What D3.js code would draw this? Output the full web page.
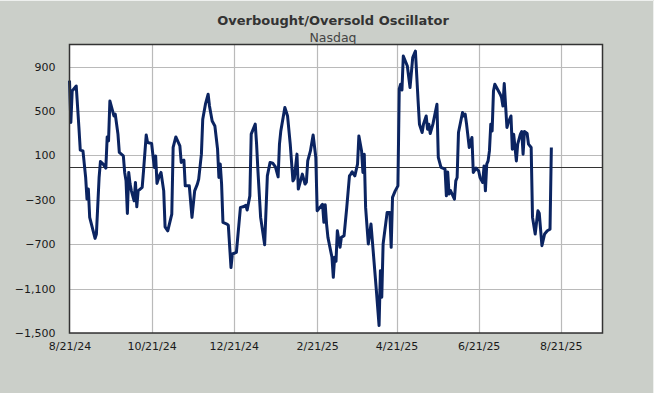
<!DOCTYPE html>
<html>
<head>
<meta charset="utf-8">
<script src="https://cdn.jsdelivr.net/npm/d3@7"></script>
<style>
  html, body { margin: 0; padding: 0; background: #cbcfc9; }
  svg { display: block; }
</style>
</head>
<body>
<div id="chart"></div>
<script>
'use strict';

var titleText = 'Overbought/Oversold Oscillator';
var subtitleText = 'Nasdaq';

var dates = [
  '2024-08-21', '2024-08-22', '2024-08-23', '2024-08-26', '2024-08-28', '2024-08-29', '2024-08-31',
  '2024-09-02', '2024-09-03', '2024-09-04', '2024-09-05', '2024-09-09', '2024-09-10', '2024-09-12',
  '2024-09-13', '2024-09-15', '2024-09-17', '2024-09-18', '2024-09-19', '2024-09-20', '2024-09-22',
  '2024-09-23', '2024-09-24', '2024-09-26', '2024-09-27', '2024-09-30',
  '2024-10-01', '2024-10-02', '2024-10-03', '2024-10-04', '2024-10-05', '2024-10-06', '2024-10-08',
  '2024-10-09', '2024-10-10', '2024-10-11', '2024-10-14', '2024-10-15', '2024-10-17', '2024-10-18',
  '2024-10-21', '2024-10-23', '2024-10-24', '2024-10-25', '2024-10-27', '2024-10-28', '2024-10-30',
  '2024-10-31',
  '2024-11-02', '2024-11-05', '2024-11-06', '2024-11-08', '2024-11-11', '2024-11-12', '2024-11-14',
  '2024-11-15', '2024-11-18', '2024-11-20', '2024-11-22', '2024-11-24', '2024-11-25', '2024-11-27',
  '2024-11-28', '2024-11-30',
  '2024-12-02', '2024-12-03', '2024-12-05', '2024-12-07', '2024-12-08', '2024-12-09', '2024-12-10',
  '2024-12-11', '2024-12-12', '2024-12-13', '2024-12-16', '2024-12-17', '2024-12-19', '2024-12-20',
  '2024-12-23', '2024-12-26', '2024-12-28', '2024-12-30', '2024-12-31',
  '2025-01-02', '2025-01-03', '2025-01-06', '2025-01-07', '2025-01-08', '2025-01-10', '2025-01-13',
  '2025-01-15', '2025-01-17', '2025-01-19', '2025-01-21', '2025-01-23', '2025-01-24', '2025-01-25',
  '2025-01-28', '2025-01-30',
  '2025-02-01', '2025-02-03', '2025-02-04', '2025-02-06', '2025-02-07', '2025-02-10', '2025-02-12',
  '2025-02-13', '2025-02-14', '2025-02-16', '2025-02-18', '2025-02-20', '2025-02-21', '2025-02-24',
  '2025-02-25', '2025-02-26', '2025-02-27', '2025-02-28',
  '2025-03-01', '2025-03-04', '2025-03-05', '2025-03-06', '2025-03-07', '2025-03-08', '2025-03-10',
  '2025-03-11', '2025-03-13', '2025-03-15', '2025-03-17', '2025-03-18', '2025-03-19', '2025-03-21',
  '2025-03-23', '2025-03-24', '2025-03-26', '2025-03-27', '2025-03-28', '2025-03-29', '2025-03-31',
  '2025-04-02', '2025-04-04', '2025-04-06', '2025-04-08', '2025-04-09', '2025-04-10', '2025-04-11',
  '2025-04-14', '2025-04-16', '2025-04-17', '2025-04-18', '2025-04-20', '2025-04-22', '2025-04-23',
  '2025-04-24', '2025-04-25', '2025-04-26', '2025-04-29',
  '2025-05-01', '2025-05-03', '2025-05-05', '2025-05-07', '2025-05-08', '2025-05-10', '2025-05-11',
  '2025-05-13', '2025-05-14', '2025-05-15', '2025-05-16', '2025-05-18', '2025-05-21', '2025-05-22',
  '2025-05-24', '2025-05-27', '2025-05-28', '2025-05-29', '2025-05-30', '2025-05-31',
  '2025-06-03', '2025-06-04', '2025-06-05', '2025-06-06', '2025-06-09', '2025-06-10', '2025-06-11',
  '2025-06-12', '2025-06-14', '2025-06-16', '2025-06-17', '2025-06-19', '2025-06-21', '2025-06-22',
  '2025-06-24', '2025-06-25', '2025-06-26', '2025-06-27', '2025-06-28', '2025-06-29', '2025-06-30',
  '2025-07-01', '2025-07-02', '2025-07-03', '2025-07-05', '2025-07-07', '2025-07-08', '2025-07-09',
  '2025-07-10', '2025-07-12', '2025-07-13', '2025-07-15', '2025-07-16', '2025-07-17', '2025-07-19',
  '2025-07-20', '2025-07-22', '2025-07-23', '2025-07-24', '2025-07-25', '2025-07-27', '2025-07-28',
  '2025-07-30', '2025-07-31',
  '2025-08-02', '2025-08-04', '2025-08-05', '2025-08-07', '2025-08-09', '2025-08-11', '2025-08-13',
  '2025-08-14'
];

var oscillator = [
  774, 397, 681, 726, 352, 148, 141,
  -98, -293, -203, -458, -647, -608, -98,
  46, 22, -14, 267, 231, 591, 501,
  456, 472, 292, 127, 96,
  -53, -129, -422, -53, -158, -219, -309,
  -143, -363, -219, -188, -39, 285, 217,
  208, -8, 96, -152, -75, -53, -219,
  -543,
  -579, -428, 172, 267, 186, 37, 58,
  -174, -174, -458, -219, -158, -113, 112,
  427, 562,
  652, 546, 411, 366, 262, 157, -98,
  22, -158, -503, -518, -530, -910, -788,
  -773, -368, -363, -350, -392,
  -264, 292, 382, 202, -39, -458, -705,
  -84, 37, 30, -3, -93, 202, 321,
  532, 456,
  202, -129, -110, 112, -203, -68, -158,
  -140, 51, 141, 285, 82, -399, -354,
  -340, -503, -345, -518,
  -638, -818, -998, -818, -854, -579, -728,
  -638, -623, -368, -84, -68, -48, -84,
  22, 276, 141, -53, 112, -368, -698,
  -518, -818, -1118, -1433, -938, -1178, -698,
  -413, -413, -728, -278, -219, -174, 700,
  742, 690, 996, 906,
  712, 982, 1041, 591, 382, 307, 382,
  456, 337, 382, 298, 382, 562, 82,
  -8, -23, -264, -50, -248, -215,
  -293, -129, -98, 307, 487, 456, 472,
  382, 172, 262, -53, -14, -40, -98,
  -143, 6, -219, 22, 51, 141, 382,
  321, 681, 742, 697, 652, 622, 546,
  748, 352, 397, 456, 157, 292, 51,
  202, 292, 316, 112, 316, 298, 202,
  172, -458,
  -608, -399, -420, -713, -608, -579, -565,
  172
];

var xTickDates = ['2024-08-21', '2024-10-21', '2024-12-21', '2025-02-21', '2025-04-21', '2025-06-21', '2025-08-21'];
var yTicks = [-1500, -1100, -700, -300, 100, 500, 900];
var xDomain = ['2024-08-21', '2025-09-21'];
var yDomain = [-1500, 1100];

var width = 654, height = 393;
var margin = { top: 44.5, right: 51.5, bottom: 60, left: 69.5 };

var parseDate = d3.timeParse('%Y-%m-%d');
var fmt = d3.timeFormat('%-m/%-d/%y');

var data = dates.map(function(d, i) {
  return { date: parseDate(d), value: oscillator[i] };
});

var svg = d3.select('#chart').append('svg')
  .attr('width', width)
  .attr('height', height)
  .style('font-family', '"DejaVu Sans", Verdana, sans-serif');

svg.append('rect')
  .attr('width', width)
  .attr('height', height)
  .attr('fill', '#cbcfc9');

// faint frame on top and right edge
svg.append('path')
  .attr('d', 'M0,0.5H653.5V393')
  .attr('fill', 'none')
  .attr('stroke', '#eef0ee')
  .attr('stroke-width', 1);

var x = d3.scaleTime()
  .domain(xDomain.map(parseDate))
  .range([margin.left, width - margin.right]);

var y = d3.scaleLinear()
  .domain(yDomain)
  .range([height - margin.bottom, margin.top]);

var plotW = width - margin.right - margin.left;
var plotH = height - margin.bottom - margin.top;

svg.append('rect')
  .attr('x', margin.left)
  .attr('y', margin.top)
  .attr('width', plotW)
  .attr('height', plotH)
  .attr('fill', '#ffffff');

// grid
svg.append('g')
  .selectAll('line.hgrid')
  .data(yTicks)
  .enter().append('line')
  .attr('class', 'hgrid')
  .attr('x1', margin.left)
  .attr('x2', width - margin.right)
  .attr('y1', function(d) { return Math.round(y(d)) + 0.5; })
  .attr('y2', function(d) { return Math.round(y(d)) + 0.5; })
  .attr('stroke', '#bababa')
  .attr('stroke-width', 1.2);

svg.append('g')
  .selectAll('line.vgrid')
  .data(xTickDates.slice(1))
  .enter().append('line')
  .attr('class', 'vgrid')
  .attr('x1', function(d) { return Math.round(x(parseDate(d))) + 0.5; })
  .attr('x2', function(d) { return Math.round(x(parseDate(d))) + 0.5; })
  .attr('y1', margin.top)
  .attr('y2', height - margin.bottom)
  .attr('stroke', '#bababa')
  .attr('stroke-width', 1.2);

// zero line
svg.append('line')
  .attr('x1', margin.left)
  .attr('x2', width - margin.right)
  .attr('y1', Math.round(y(0)) + 0.5)
  .attr('y2', Math.round(y(0)) + 0.5)
  .attr('stroke', '#333333')
  .attr('stroke-width', 1);

// axes (labels only, frame drawn separately)
var xAxis = d3.axisBottom(x)
  .tickValues(xTickDates.map(parseDate))
  .tickFormat(fmt)
  .tickSize(0)
  .tickPadding(9);

var yAxis = d3.axisLeft(y)
  .tickValues(yTicks)
  .tickSize(0)
  .tickPadding(14);

var gx = svg.append('g')
  .attr('transform', 'translate(0,' + (height - margin.bottom) + ')')
  .call(xAxis);
var gy = svg.append('g')
  .attr('transform', 'translate(' + margin.left + ',0)')
  .call(yAxis);

[gx, gy].forEach(function(g) {
  g.select('.domain').remove();
  g.selectAll('text')
    .style('font-size', '11px')
    .style('font-family', '"DejaVu Sans", Verdana, sans-serif')
    .attr('fill', '#1a1a1a');
});

// the oscillator line
var line = d3.line()
  .x(function(d) { return x(d.date); })
  .y(function(d) { return y(d.value); });

svg.append('path')
  .datum(data)
  .attr('d', line)
  .attr('fill', 'none')
  .attr('stroke', '#0b2461')
  .attr('stroke-width', 3)
  .attr('stroke-linejoin', 'round');

// plot frame
svg.append('rect')
  .attr('x', margin.left)
  .attr('y', margin.top)
  .attr('width', plotW)
  .attr('height', plotH)
  .attr('fill', 'none')
  .attr('stroke', '#333333')
  .attr('stroke-width', 1.5);

// titles
svg.append('text')
  .attr('x', 333)
  .attr('y', 25)
  .attr('text-anchor', 'middle')
  .style('font-size', '13px')
  .style('font-weight', 'bold')
  .attr('fill', '#333333')
  .text(titleText);

svg.append('text')
  .attr('x', 333)
  .attr('y', 41.5)
  .attr('text-anchor', 'middle')
  .style('font-size', '12.5px')
  .attr('fill', '#444444')
  .text(subtitleText);
</script>
</body>
</html>
